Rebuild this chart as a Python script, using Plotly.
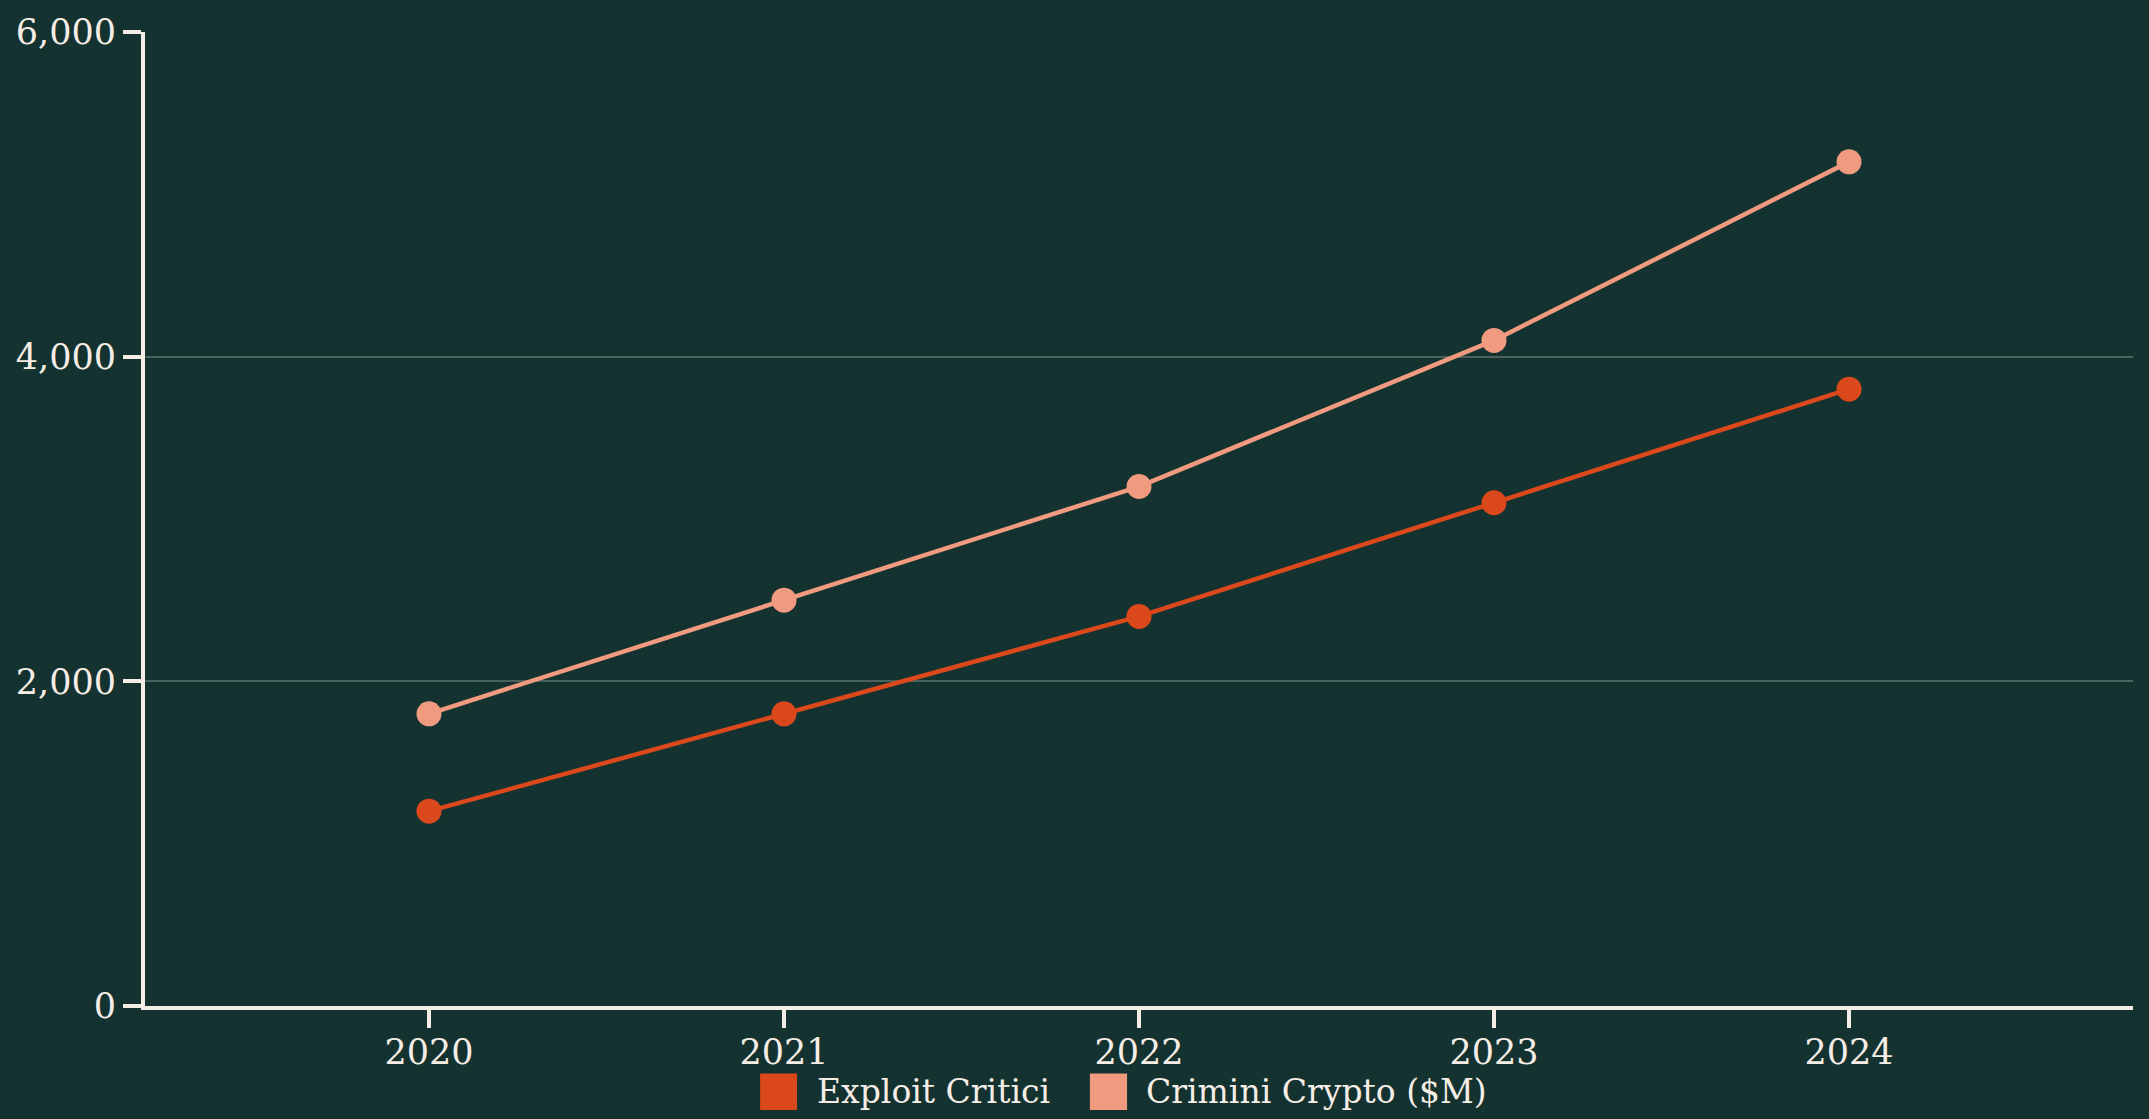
import plotly.graph_objects as go

years = [2020, 2021, 2022, 2023, 2024]
exploit_critici = [1200, 1800, 2400, 3100, 3800]
crimini_crypto = [1800, 2500, 3200, 4100, 5200]
series_names = ["Exploit Critici", "Crimini Crypto ($M)"]
series_colors = ["#DA481B", "#F09A80"]
y_ticks = [0, 2000, 4000, 6000]

BG = "#14322F"
INK = "#F6EDE6"
GRID = "#4A625E"
FONT = "DejaVu Serif"
FS = 35

fig = go.Figure()
for name, vals, col in zip(series_names, [exploit_critici, crimini_crypto], series_colors):
    fig.add_trace(go.Scatter(
        x=years, y=vals, name=name, mode="lines+markers",
        line=dict(color=col, width=4.5),
        marker=dict(color=col, size=25),
        showlegend=False,
    ))

# custom legend (large swatches)
legend_y = -0.0876
sw = [(0.3094, 0.328), (0.4753, 0.494)]
tx = [0.337, 0.5025]
for (x0, x1), t, name, col in zip(sw, tx, series_names, series_colors):
    fig.add_shape(type="rect", xref="paper", yref="paper",
                  x0=x0, x1=x1, y0=-0.0692, y1=-0.1069,
                  fillcolor=col, line=dict(width=0), layer="above")
    fig.add_annotation(xref="paper", yref="paper", x=t, y=legend_y,
                       text=name, showarrow=False, xanchor="left", yanchor="middle",
                       font=dict(family=FONT, size=33, color=INK))

fig.update_layout(
    width=2149, height=1119,
    paper_bgcolor=BG, plot_bgcolor=BG,
    margin=dict(l=145, r=16, t=22, b=113),
    font=dict(family=FONT, size=FS, color=INK),
    showlegend=False,
)
fig.update_xaxes(
    range=[2019.2, 2024.8], tickvals=years, ticktext=[str(y) for y in years],
    showgrid=False, zeroline=False,
    showline=True, linecolor=INK, linewidth=4,
    ticks="outside", ticklen=18, tickwidth=4, tickcolor=INK,
    ticklabelstandoff=-6,
    tickfont=dict(family=FONT, size=FS, color=INK),
)
fig.update_yaxes(
    range=[0, 6000], tickvals=y_ticks, tickformat=",",
    showgrid=True, gridcolor=GRID, gridwidth=2, zeroline=False,
    showline=True, linecolor=INK, linewidth=4,
    ticks="outside", ticklen=18, tickwidth=4, tickcolor=INK,
    tickfont=dict(family=FONT, size=FS, color=INK),
)

fig.write_html("out.html", config={"displayModeBar": False},
               post_script="document.body.style.margin='0';document.body.style.background='" + BG + "';")
